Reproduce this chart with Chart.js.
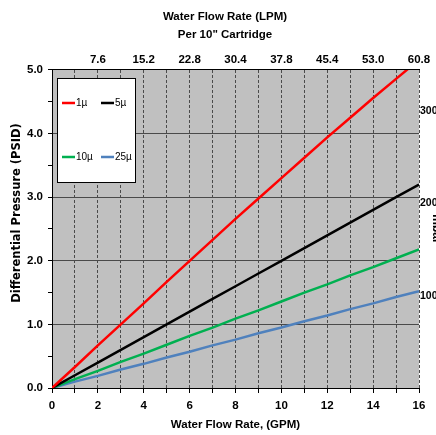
<!DOCTYPE html>
<html>
<head>
  <title>Differential Pressure vs Water Flow Rate</title>
  <script src="https://cdn.jsdelivr.net/npm/chart.js"></script>
  <style type="text/css">
    body { margin: 0; background: #fff; overflow: hidden; }
    .chart-box { position: relative; width: 450px; height: 435px; }
  </style>
</head>
<body>
  <div class="chart-box">
    <canvas id="myChart" width="450" height="435"></canvas>
  </div>
  <script>
    // data
    const gpm = [0, 1, 2, 3, 4, 5, 6, 7, 8, 9, 10, 11, 12, 13, 14, 15, 16];
    const psid1 = [0, 0.33, 0.67, 1.0, 1.33, 1.67, 2.0, 2.33, 2.66, 2.98, 3.3, 3.62, 3.94, 4.25, 4.56, 4.86, 5.16];
    const psid5 = [0, 0.2, 0.4, 0.6, 0.8, 1.0, 1.2, 1.4, 1.6, 1.8, 2.0, 2.2, 2.4, 2.6, 2.8, 3.0, 3.2];
    const psid10 = [0, 0.14, 0.27, 0.41, 0.54, 0.68, 0.82, 0.95, 1.09, 1.22, 1.36, 1.5, 1.63, 1.77, 1.9, 2.04, 2.18];
    const psid25 = [0, 0.1, 0.19, 0.29, 0.38, 0.48, 0.57, 0.67, 0.76, 0.86, 0.95, 1.05, 1.14, 1.24, 1.33, 1.43, 1.52];
    const seriesNames = ['1µ', '5µ', '10µ', '25µ'];
    const lpmLabels = ['', '7.6', '15.2', '22.8', '30.4', '37.8', '45.4', '53.0', '60.8'];
    const mbarTicks = [100, 200, 300];
    const PSI_TO_MBAR = 68.948;

    const sans = "'Liberation Sans', Arial, sans-serif";

    function pts(ys) {
      return gpm.map((x, i) => ({ x: x, y: ys[i] }));
    }

    // gray plot area
    const plotBg = {
      id: 'plotBg',
      beforeDraw(chart) {
        const a = chart.chartArea;
        const ctx = chart.ctx;
        ctx.save();
        ctx.fillStyle = '#c0c0c0';
        ctx.fillRect(a.left, a.top, a.right - a.left, a.bottom - a.top);
        ctx.restore();
      }
    };

    // boxed legend inside the plot + left axis title
    const extras = {
      id: 'extras',
      afterDraw(chart) {
        const a = chart.chartArea;
        const ctx = chart.ctx;
        ctx.save();
        const bx = a.left + 5, by = a.top + 8;
        ctx.fillStyle = '#fff';
        ctx.fillRect(bx, by, 78, 104);
        ctx.strokeStyle = '#000';
        ctx.lineWidth = 1;
        ctx.strokeRect(bx + 0.5, by + 0.5, 78, 104);
        ctx.font = "10px " + sans;
        ctx.textBaseline = 'middle';
        chart.data.datasets.forEach((ds, i) => {
          const lx = bx + (i % 2 === 0 ? 5 : 44);
          const ly = by + (i < 2 ? 25 : 79);
          ctx.strokeStyle = ds.borderColor;
          ctx.lineWidth = 2.5;
          ctx.beginPath();
          ctx.moveTo(lx, ly);
          ctx.lineTo(lx + 13, ly);
          ctx.stroke();
          ctx.fillStyle = '#000';
          ctx.fillText(ds.label, lx + 14, ly);
        });
        ctx.translate(17, 213);
        ctx.rotate(-Math.PI / 2);
        ctx.font = "bold 11.5px 'DejaVu Sans'";
        ctx.textAlign = 'center';
        ctx.fillText('Differential Pressure (PSID)', 0, 0);
        ctx.restore();
      }
    };

    const ctx = document.getElementById('myChart').getContext('2d');
    const myChart = new Chart(ctx, {
      type: 'line',
      data: {
        datasets: [
          { label: seriesNames[0], data: pts(psid1), borderColor: '#ff0000' },
          { label: seriesNames[1], data: pts(psid5), borderColor: '#000000' },
          { label: seriesNames[2], data: pts(psid10), borderColor: '#00b050' },
          { label: seriesNames[3], data: pts(psid25), borderColor: '#4f81bd' }
        ]
      },
      options: {
        responsive: false,
        animation: false,
        layout: { padding: 0 },
        elements: {
          line: { borderWidth: 2.5, tension: 0 },
          point: { radius: 0 }
        },
        plugins: {
          legend: { display: false },
          tooltip: { enabled: false },
          title: {
            display: true,
            text: ['Water Flow Rate (LPM)', 'Per 10" Cartridge'],
            color: '#000',
            font: { family: sans, size: 11.5, weight: 'bold', lineHeight: 1.565 },
            padding: { top: 8, bottom: 6 }
          }
        },
        scales: {
          x: {
            type: 'linear',
            position: 'bottom',
            min: 0, max: 16,
            afterFit(s) { s.height = 47; },
            ticks: {
              stepSize: 1, autoSkip: false, maxRotation: 0, padding: 6,
              color: '#000',
              font: { family: sans, size: 11.5, weight: 'bold' },
              callback: v => (v % 2 === 0 ? v : '')
            },
            grid: { color: '#4a4a4a', tickColor: '#000', tickLength: 5 },
            border: { color: '#000', dash: [3, 2] },
            title: {
              display: true,
              text: 'Water Flow Rate, (GPM)',
              color: '#000',
              font: { family: sans, size: 11.5, weight: 'bold' },
              padding: { top: 0, bottom: 3 }
            }
          },
          x2: {
            type: 'linear',
            position: 'top',
            min: 0, max: 16,
            afterFit(s) { s.height = 20; },
            ticks: {
              stepSize: 2, autoSkip: false, maxRotation: 0, padding: 3,
              color: '#000',
              font: { family: sans, size: 11.5, weight: 'bold' },
              callback: v => lpmLabels[v / 2]
            },
            grid: { drawOnChartArea: false, drawTicks: false },
            border: { color: '#000' }
          },
          y: {
            type: 'linear',
            position: 'left',
            min: 0, max: 5,
            afterFit(s) { s.width = 52; },
            ticks: {
              stepSize: 0.5, autoSkip: false, padding: 5,
              color: '#000',
              font: { family: sans, size: 11.5, weight: 'bold' },
              callback: v => (Number.isInteger(v) ? v.toFixed(1) : '')
            },
            grid: {
              color: c => (Number.isInteger(c.tick.value) ? '#4a4a4a' : 'rgba(0,0,0,0)'),
              tickColor: '#000',
              tickLength: 4
            },
            border: { color: '#000' }
          },
          y2: {
            type: 'linear',
            position: 'right',
            min: 0, max: 5 * PSI_TO_MBAR,
            afterFit(s) { s.width = 31; },
            afterBuildTicks(s) { s.ticks = mbarTicks.map(v => ({ value: v })); },
            ticks: {
              padding: 1,
              color: '#000',
              font: { family: sans, size: 10.5, weight: 'bold' }
            },
            grid: { drawOnChartArea: false, drawTicks: false },
            border: { display: false },
            title: {
              display: true,
              text: 'mbar',
              color: '#000',
              font: { family: sans, size: 12, weight: 'bold' },
              padding: { top: 6, bottom: 0 }
            }
          }
        }
      },
      plugins: [plotBg, extras]
    });
  </script>
</body>
</html>
